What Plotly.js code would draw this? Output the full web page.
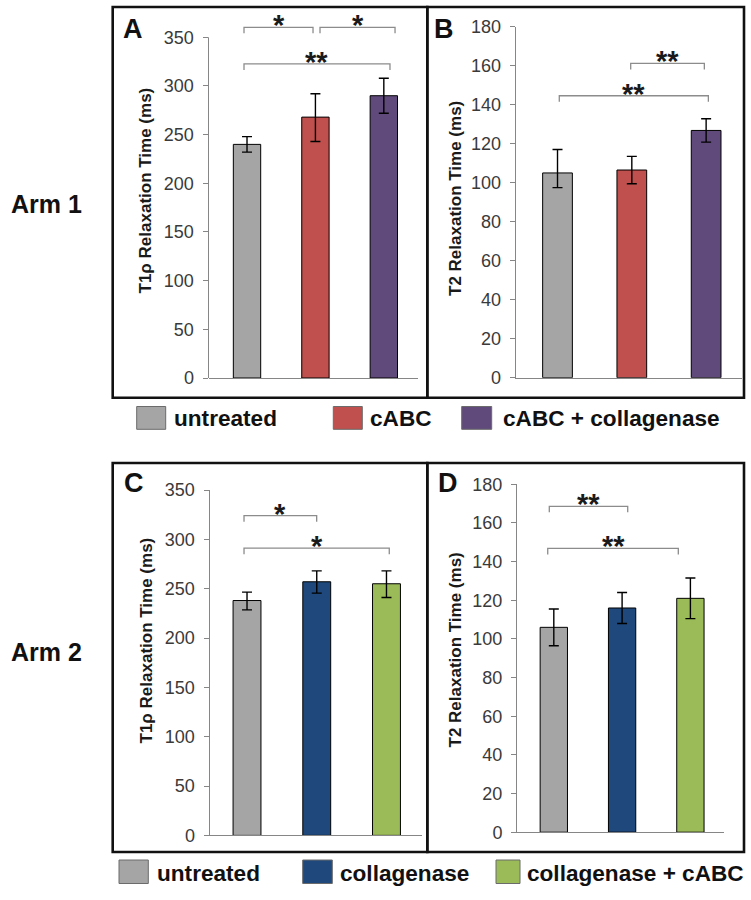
<!DOCTYPE html>
<html><head><meta charset="utf-8">
<script src="https://cdn.plot.ly/plotly-3.0.1.min.js"></script>
<style>html,body{margin:0;padding:0;background:#fff}#chart{width:751px;height:900px}</style>
</head><body><div id="chart"></div>
<script>
// ---------------- DATA ----------------
const arm1Groups = ['untreated', 'cABC', 'cABC + collagenase'];
const arm2Groups = ['untreated', 'collagenase', 'collagenase + cABC'];
const arm1Colors = ['#a5a5a5', '#c0504d', '#604a7b'];
const arm2Colors = ['#a5a5a5', '#1f497d', '#9bbb59'];

const t1rhoArm1 = [240, 268, 290];
const t1rhoArm1ErrPlus = [8, 24, 18];
const t1rhoArm1ErrMinus = [8, 25, 18];

const t2Arm1 = [105, 106.5, 126.8];
const t2Arm1ErrPlus = [12, 7, 6];
const t2Arm1ErrMinus = [7.5, 7, 6];

const t1rhoArm2 = [238, 257, 255];
const t1rhoArm2ErrPlus = [8.5, 11, 13];
const t1rhoArm2ErrMinus = [9.5, 11.5, 14];

const t2Arm2 = [106, 116, 121];
const t2Arm2ErrPlus = [9.5, 8, 10.5];
const t2Arm2ErrMinus = [9.5, 8, 10.5];

const t1rhoTicks = [0, 50, 100, 150, 200, 250, 300, 350];
const t2Ticks = [0, 20, 40, 60, 80, 100, 120, 140, 160, 180];

// significance comparisons: [fromGroup, toGroup, label]
const sigA = [[0, 1, '*'], [1, 2, '*'], [0, 2, '**']];
const sigB = [[1, 2, '**'], [0, 2, '**']];
const sigC = [[0, 1, '*'], [0, 2, '*']];
const sigD = [[0, 1, '**'], [0, 2, '**']];

const armLabels = ['Arm 1', 'Arm 2'];
const panelLetters = ['A', 'B', 'C', 'D'];
const t1rhoTitle = 'T1\u03c1 Relaxation Time (ms)';
const t2Title = 'T2 Relaxation Time (ms)';

// ---------------- LAYOUT HELPERS ----------------
const W = 751, H = 900;
const px = v => v / W;
const py = v => 1 - v / H;
const FONT = 'Liberation Sans, Arial, sans-serif';

const panels = [
  {xa: 'x', ya: 'y', xPix: [208.5, 418.3], yPix: [378, 8.1], xRange: [-0.563, 2.504], yRange: [0, 380], ticks: t1rhoTicks,
   vals: t1rhoArm1, plus: t1rhoArm1ErrPlus, minus: t1rhoArm1ErrMinus, colors: arm1Colors, groups: arm1Groups,
   sig: sigA, bx: [[-0.044, 0.965], [1.067, 2.164], [-0.044, 2.09]], by: [360.3, 360.3, 322.6], drop: 6.2,
   customLine: 350, frame: [112.7, 7, 427.3, 397.7], letter: [121, 28.6], title: t1rhoTitle, titlePos: [145.5, 191]},
  {xa: 'x2', ya: 'y2', xPix: [515.7, 741.5], yPix: [377.7, 26.7], xRange: [-0.5626, 2.476], yRange: [0, 180], ticks: t2Ticks,
   vals: t2Arm1, plus: t2Arm1ErrPlus, minus: t2Arm1ErrMinus, colors: arm1Colors, groups: arm1Groups,
   sig: sigB, bx: [[0.985, 1.976], [0.024, 2.03]], by: [161.2, 144.6], drop: 3.1,
   customLine: null, frame: [427.3, 7, 744, 397.7], letter: [432, 28.6], title: t2Title, titlePos: [455.5, 198.5]},
  {xa: 'x3', ya: 'y3', xPix: [209.5, 421.7], yPix: [835.4, 490], xRange: [-0.538, 2.505], yRange: [0, 350], ticks: t1rhoTicks,
   vals: t1rhoArm2, plus: t1rhoArm2ErrPlus, minus: t1rhoArm2ErrMinus, colors: arm2Colors, groups: arm2Groups,
   sig: sigC, bx: [[-0.043, 0.999], [-0.043, 2.04]], by: [324, 291], drop: 6.1,
   customLine: null, frame: [112.7, 463, 427.3, 852], letter: [121.5, 483.3], title: t1rhoTitle, titlePos: [145.5, 641]},
  {xa: 'x4', ya: 'y4', xPix: [517, 724], yPix: [832.2, 484.3], xRange: [-0.539, 2.492], yRange: [0, 180], ticks: t2Ticks,
   vals: t2Arm2, plus: t2Arm2ErrPlus, minus: t2Arm2ErrMinus, colors: arm2Colors, groups: arm2Groups,
   sig: sigD, bx: [[-0.066, 1.082], [-0.089, 1.823]], by: [168.6, 146.8], drop: 3.1,
   customLine: null, frame: [427.3, 463, 744, 852], letter: [435.5, 483.3], title: t2Title, titlePos: [454.5, 650]}
];

const traces = [];
const shapes = [];
const annotations = [];
const layout = {
  width: W, height: H,
  margin: {l: 0, r: 0, t: 0, b: 0},
  paper_bgcolor: '#ffffff', plot_bgcolor: 'rgba(0,0,0,0)',
  showlegend: false,
  font: {family: FONT, color: '#000'},
  bargap: 0
};

panels.forEach((p, i) => {
  const xi = p.xa === 'x' ? '' : p.xa.slice(1);
  layout['xaxis' + xi] = {
    domain: [px(p.xPix[0]), px(p.xPix[1])], anchor: p.ya, range: p.xRange,
    showline: true, linecolor: '#868686', linewidth: 1, showticklabels: false, ticks: '',
    showgrid: false, zeroline: false, fixedrange: true
  };
  layout['yaxis' + xi] = {
    domain: [py(p.yPix[0]), py(p.yPix[1])], anchor: p.xa, range: p.yRange,
    showline: p.customLine === null, linecolor: '#868686', linewidth: 1,
    tickmode: 'array', tickvals: p.ticks, ticktext: p.ticks.map(String),
    ticks: 'outside', ticklen: 5, tickcolor: '#868686', tickwidth: 1, ticklabelstandoff: 5,
    tickfont: {family: FONT, size: 18, color: '#3a3a3a'},
    showgrid: false, zeroline: false, fixedrange: true
  };
  traces.push({
    type: 'bar', x: [0, 1, 2], y: p.vals, text: p.groups, textposition: 'none', width: 0.4,
    xaxis: p.xa, yaxis: p.ya, hoverinfo: 'skip', showlegend: false,
    marker: {color: p.colors, line: {color: '#000', width: 1}},
    error_y: {type: 'data', symmetric: false, array: p.plus, arrayminus: p.minus,
              color: '#000', thickness: 1.4, width: 5}
  });
  if (p.customLine !== null) {
    shapes.push({type: 'line', xref: p.xa + ' domain', yref: p.ya, x0: 0, x1: 0, y0: 0, y1: p.customLine,
                 line: {color: '#868686', width: 1}});
  }
  p.sig.forEach((s, k) => {
    const x0 = p.bx[k][0], x1 = p.bx[k][1], y = p.by[k], d = p.drop;
    shapes.push({type: 'path', xref: p.xa, yref: p.ya, layer: 'above',
      path: `M ${x0},${y - d} L ${x0},${y} L ${x1},${y} L ${x1},${y - d}`,
      line: {color: '#8c8c8c', width: 1.3}});
    annotations.push({xref: p.xa, yref: p.ya, x: (x0 + x1) / 2, y: y, yanchor: 'middle', yshift: 2,
      showarrow: false, text: '<b>' + s[2] + '</b>', font: {family: FONT, size: 29, color: '#1a1a1a'}});
  });
  // frame
  shapes.push({type: 'rect', xref: 'paper', yref: 'paper', x0: px(p.frame[0]), x1: px(p.frame[2]),
               y0: py(p.frame[3]), y1: py(p.frame[1]), line: {color: '#111', width: 2.6}, fillcolor: 'rgba(0,0,0,0)'});
  // letter
  annotations.push({xref: 'paper', yref: 'paper', x: px(p.letter[0]), y: py(p.letter[1]), xanchor: 'left', yanchor: 'middle',
    showarrow: false, text: '<b>' + panelLetters[i] + '</b>', font: {family: FONT, size: 27, color: '#111'}});
  // axis title
  annotations.push({xref: 'paper', yref: 'paper', x: px(p.titlePos[0]), y: py(p.titlePos[1]), xanchor: 'center', yanchor: 'middle',
    textangle: -90, showarrow: false, text: '<b>' + p.title + '</b>', font: {family: FONT, size: 17, color: '#1a1a1a'}});
});

// arm labels
[[46, 203.7], [46, 652]].forEach((pos, i) => {
  annotations.push({xref: 'paper', yref: 'paper', x: px(pos[0]), y: py(pos[1]), xanchor: 'center', yanchor: 'middle',
    showarrow: false, text: '<b>' + armLabels[i] + '</b>', font: {family: FONT, size: 25, color: '#111'}});
});

// manual legends (box positions in px)
const legendRows = [
  {groups: arm1Groups, colors: arm1Colors, boxes: [[136.7, 165.7], [333.3, 362.3], [461.7, 491.7]], boxY: [406.5, 429.3],
   textX: [171.7, 368.3, 501], textY: 419},
  {groups: arm2Groups, colors: arm2Colors, boxes: [[119, 148.3], [302.7, 332.3], [496, 520]], boxY: [860, 883.5],
   textX: [155, 338.3, 525], textY: 873}
];
legendRows.forEach(r => {
  r.groups.forEach((g, k) => {
    shapes.push({type: 'rect', xref: 'paper', yref: 'paper', x0: px(r.boxes[k][0]), x1: px(r.boxes[k][1]),
      y0: py(r.boxY[1]), y1: py(r.boxY[0]), fillcolor: r.colors[k], line: {color: '#6b6b6b', width: 1}});
    annotations.push({xref: 'paper', yref: 'paper', x: px(r.textX[k]), y: py(r.textY), xanchor: 'left', yanchor: 'middle',
      showarrow: false, text: '<b>' + g + '</b>', font: {family: FONT, size: 22.6, color: '#111'}});
  });
});

layout.shapes = shapes;
layout.annotations = annotations;

Plotly.newPlot('chart', traces, layout, {displayModeBar: false, staticPlot: true});
</script>
</body></html>
